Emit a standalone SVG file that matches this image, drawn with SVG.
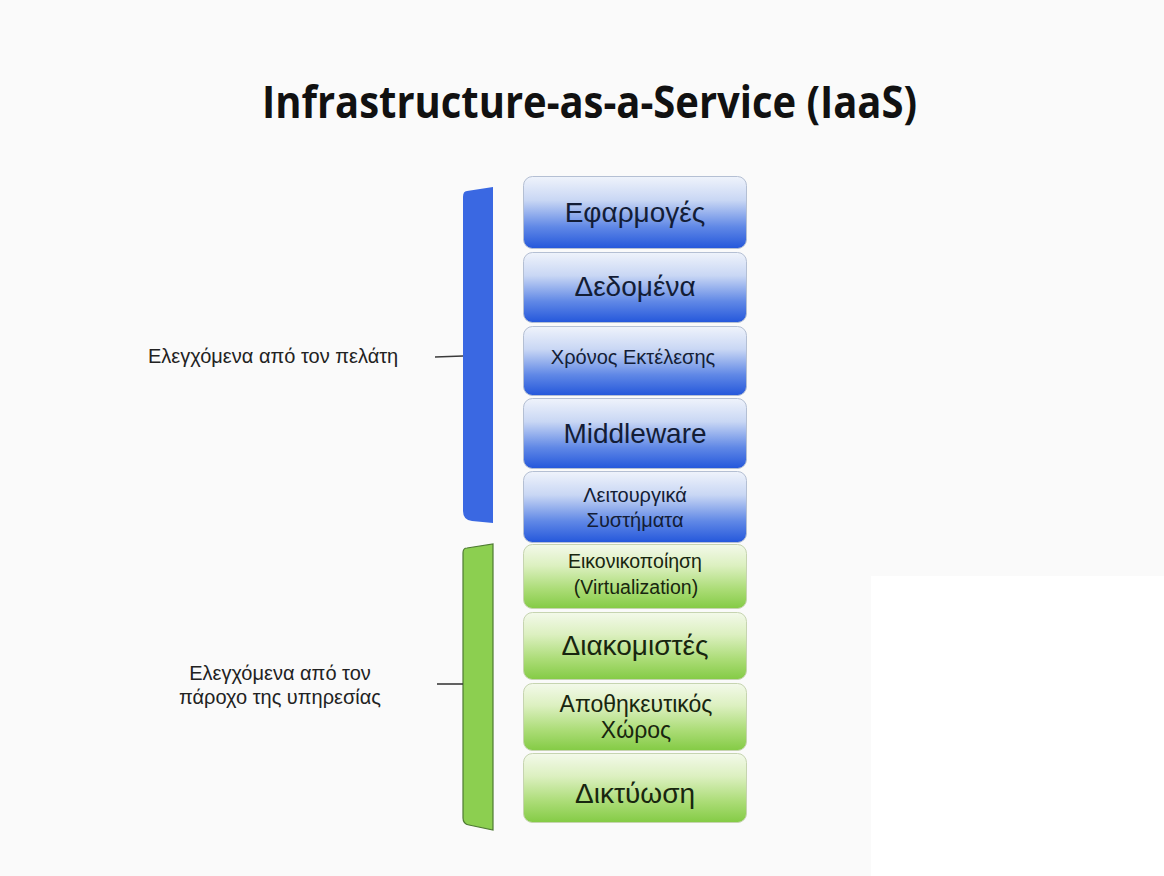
<svg xmlns="http://www.w3.org/2000/svg" width="1164" height="876" viewBox="0 0 1164 876">
<defs>
<linearGradient id="gBlue" x1="0" y1="0" x2="0" y2="1">
<stop offset="0" stop-color="#eff3fb"/>
<stop offset="0.33" stop-color="#c9d7f4"/>
<stop offset="0.7" stop-color="#6088e6"/>
<stop offset="1" stop-color="#2457db"/>
</linearGradient>
<linearGradient id="gGreen" x1="0" y1="0" x2="0" y2="1">
<stop offset="0" stop-color="#f3f9ea"/>
<stop offset="0.33" stop-color="#dcf0c0"/>
<stop offset="0.7" stop-color="#abdc76"/>
<stop offset="1" stop-color="#84cb45"/>
</linearGradient>
<style>
.bb{fill:url(#gBlue);stroke:#b4bfd3;stroke-width:1}
.gb{fill:url(#gGreen);stroke:#c6d4b0;stroke-width:1}
.bt{font-family:"Liberation Sans",Arial,sans-serif;fill:#131d36;text-anchor:middle}
.gt{font-family:"Liberation Sans",Arial,sans-serif;fill:#18260f;text-anchor:middle}
.lab{font-family:"Liberation Sans",Arial,sans-serif;fill:#222;font-size:20px}
.tip{stroke:#3a3a3a;stroke-width:1.6;fill:none}
</style>
</defs>
<rect x="0" y="0" width="1164" height="876" fill="#fafafa"/>
<rect x="871" y="576" width="293" height="300" fill="#ffffff"/>
<text id="title" x="589.5" y="118" font-family="'Open Sans',sans-serif" font-weight="bold" font-size="44" text-anchor="middle" fill="#111" textLength="655" lengthAdjust="spacingAndGlyphs">Infrastructure-as-a-Service (IaaS)</text>

<g id="brackets">
<path d="M467 191 L493 187 L493 523 L472 521 Q463 520 463 511 L463 197 Q463 191 467 191 Z" fill="#3a68e2"/>
<path d="M467 548 L493 544 L493 830 L469 825 Q463 824 463 818 L463 553 Q463 548 467 548 Z" fill="#8ccf50" stroke="#4e7a32" stroke-width="1.2"/>
</g>
<g id="connectors">
<line class="tip" x1="435" y1="357" x2="463" y2="356"/>
<line class="tip" x1="437" y1="684" x2="463" y2="684"/>
</g>

<g id="label-customer"><text class="lab" x="148" y="363">Ελεγχόμενα από τον πελάτη</text></g>
<g id="label-provider"><text class="lab" text-anchor="middle" x="280" y="680">Ελεγχόμενα από τον</text><text class="lab" text-anchor="middle" x="280" y="704">πάροχο της υπηρεσίας</text></g>

<g id="n-apps"><rect class="bb" x="523.5" y="176.5" width="223" height="72" rx="9"/><text class="bt" x="635" y="222" font-size="28">Εφαρμογές</text></g>
<g id="n-data"><rect class="bb" x="523.5" y="252.5" width="223" height="70" rx="9"/><text class="bt" x="635" y="296" font-size="28">Δεδομένα</text></g>
<g id="n-runtime"><rect class="bb" x="523.5" y="326.5" width="223" height="69" rx="9"/><text class="bt" x="633" y="364" font-size="20">Χρόνος Εκτέλεσης</text></g>
<g id="n-middleware"><rect class="bb" x="523.5" y="398.5" width="223" height="70" rx="9"/><text class="bt" x="635" y="443" font-size="28">Middleware</text></g>
<g id="n-os"><rect class="bb" x="523.5" y="471.5" width="223" height="71" rx="9"/><text class="bt" x="635" y="502" font-size="20">Λειτουργικά</text><text class="bt" x="635" y="527" font-size="20">Συστήματα</text></g>

<g id="n-virt"><rect class="gb" x="523.5" y="544.5" width="223" height="64" rx="9"/><text class="gt" x="635" y="568" font-size="19.5">Εικονικοποίηση</text><text class="gt" x="636" y="594" font-size="19.5">(Virtualization)</text></g>
<g id="n-servers"><rect class="gb" x="523.5" y="612.5" width="223" height="67" rx="9"/><text class="gt" x="635" y="655" font-size="28">Διακομιστές</text></g>
<g id="n-storage"><rect class="gb" x="523.5" y="683.5" width="223" height="67" rx="9"/><text class="gt" x="636" y="712" font-size="23">Αποθηκευτικός</text><text class="gt" x="636" y="738" font-size="23">Χώρος</text></g>
<g id="n-network"><rect class="gb" x="523.5" y="753.5" width="223" height="69" rx="9"/><text class="gt" x="635" y="803" font-size="28">Δικτύωση</text></g>
</svg>
